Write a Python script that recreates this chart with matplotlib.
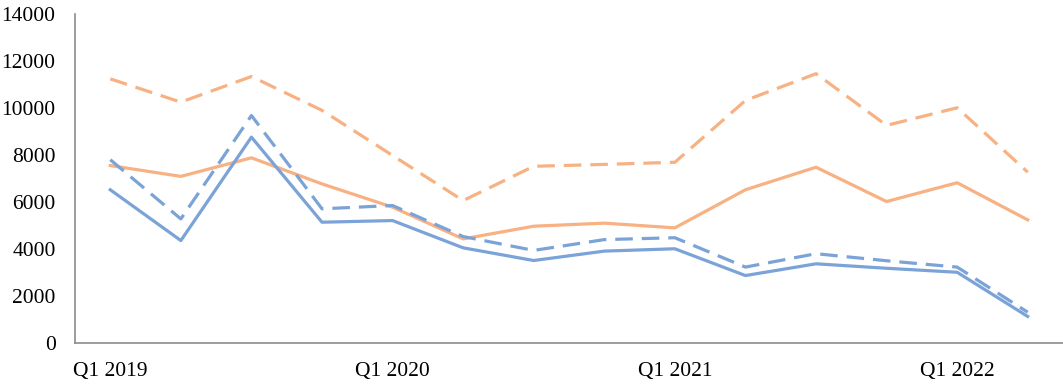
import matplotlib
matplotlib.use("Agg")
import matplotlib.pyplot as plt

quarters = ["Q1 2019", "Q2 2019", "Q3 2019", "Q4 2019",
            "Q1 2020", "Q2 2020", "Q3 2020", "Q4 2020",
            "Q1 2021", "Q2 2021", "Q3 2021", "Q4 2021",
            "Q1 2022", "Q2 2022"]

orange_dashed = [11240, 10250, 11340, 9900, 7980, 6060, 7520, 7600, 7690, 10320, 11460, 9260, 10010, 7270]
orange_solid = [7550, 7090, 7880, 6770, 5780, 4430, 4970, 5100, 4900, 6520, 7480, 6020, 6820, 5240]
blue_solid = [6520, 4360, 8760, 5140, 5210, 4050, 3510, 3910, 4010, 2870, 3370, 3180, 3010, 1130]
blue_dashed = [7800, 5280, 9680, 5710, 5850, 4530, 3940, 4400, 4480, 3230, 3800, 3500, 3230, 1310]

yticks = [0, 2000, 4000, 6000, 8000, 10000, 12000, 14000]

BLUE = "#7BA3D7"
ORANGE = "#F7B183"

plt.rcParams["font.family"] = ["Liberation Serif", "DejaVu Serif"]

fig = plt.figure(figsize=(10.63, 3.86), dpi=100)
ax = fig.add_axes([75 / 1063, 43 / 386, 988 / 1063, 329 / 386])

x = list(range(len(quarters)))
dash = (0, (5.5, 2.8))
ax.plot(x, orange_dashed, color=ORANGE, lw=2.3, linestyle=dash, dash_capstyle="butt")
ax.plot(x, orange_solid, color=ORANGE, lw=2.3)
ax.plot(x, blue_dashed, color=BLUE, lw=2.3, linestyle=dash, dash_capstyle="butt")
ax.plot(x, blue_solid, color=BLUE, lw=2.3)

ax.set_xlim(-0.5, len(quarters) - 0.5)
ax.set_ylim(0, 14000)
ax.set_yticks(yticks)
ax.set_yticklabels([str(v) for v in yticks])
ax.set_xticks(x[::4])
ax.set_xticklabels(quarters[::4])

for s in ("top", "right"):
    ax.spines[s].set_visible(False)
for s in ("left", "bottom"):
    ax.spines[s].set_color("#8c8c8c")
    ax.spines[s].set_linewidth(1.2)

ax.tick_params(axis="both", length=0, labelsize=15.5, colors="black")
ax.tick_params(axis="y", pad=14)
ax.tick_params(axis="x", pad=14)

fig.savefig("out.png", dpi=100)
